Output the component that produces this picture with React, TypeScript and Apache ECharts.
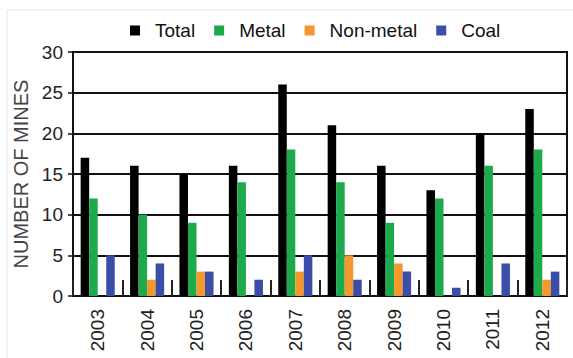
import React, { useEffect, useRef } from "react";
import * as echarts from "echarts";

const years = ["2003", "2004", "2005", "2006", "2007", "2008", "2009", "2010", "2011", "2012"];
const total = [17, 16, 15, 16, 26, 21, 16, 13, 20, 23];
const metal = [12, 10, 9, 14, 18, 14, 9, 12, 16, 18];
const nonMetal = [0, 2, 3, 0, 3, 5, 4, 0, 0, 2];
const coal = [5, 4, 3, 2, 5, 2, 3, 1, 4, 3];
const yTicks = [0, 5, 10, 15, 20, 25, 30];

export default function App() {
  const ref = useRef<HTMLDivElement>(null);
  useEffect(() => {
    if (!ref.current) return;
    const chart = echarts.init(ref.current, null, { renderer: "svg" });
    const font = "Liberation Sans, Arial, sans-serif";
    const mk = (name: string, data: number[], color: string) => ({
      name,
      type: "bar",
      data,
      barGap: "0%",
      barCategoryGap: "31%",
      itemStyle: { color },
    });
    chart.setOption({
      animation: false,
      backgroundColor: "#ffffff",
      textStyle: { fontFamily: font },
      graphic: [
        {
          type: "rect",
          shape: { x: 7, y: 10, width: 580, height: 360 },
          style: { fill: "none", stroke: "#e6e6e6", lineWidth: 1 },
          silent: true,
        },
      ],
      legend: {
        top: 16,
        left: 125,
        itemWidth: 10,
        itemHeight: 10,
        itemGap: 19,
        icon: "rect",
        textStyle: { fontSize: 19, color: "#111", fontFamily: font, padding: [0, 0, 0, 10] },
        data: ["Total", "Metal", "Non-metal", "Coal"],
      },
      grid: {
        left: 73,
        right: 6,
        top: 52,
        bottom: 62,
        show: true,
        borderColor: "#111",
        borderWidth: 2,
        backgroundColor: "transparent",
      },
      xAxis: {
        type: "category",
        data: years,
        axisLine: { lineStyle: { color: "#111", width: 2 } },
        axisTick: { show: true, inside: true, length: 16, lineStyle: { color: "#222", width: 2 } },
        axisLabel: { rotate: 90, fontSize: 19, color: "#222", margin: 13, fontFamily: font },
      },
      yAxis: {
        type: "value",
        min: yTicks[0],
        max: yTicks[yTicks.length - 1],
        interval: 5,
        name: "NUMBER OF MINES",
        nameLocation: "middle",
        nameRotate: 90,
        nameGap: 40,
        nameTextStyle: { fontSize: 20, color: "#444", fontFamily: font },
        axisLine: { show: true, lineStyle: { color: "#111", width: 2 } },
        axisTick: { show: true, length: 5, lineStyle: { color: "#111", width: 1.5 } },
        axisLabel: { fontSize: 19, color: "#222", margin: 10, fontFamily: font },
        splitLine: { show: true, lineStyle: { color: "#111", width: 2 } },
      },
      series: [
        mk("Total", total, "#000000"),
        mk("Metal", metal, "#1daa4c"),
        mk("Non-metal", nonMetal, "#f4972c"),
        mk("Coal", coal, "#3a4ea8"),
      ],
    });
    return () => chart.dispose();
  }, []);
  return <div ref={ref} style={{ width: 573, height: 358, position: "absolute", left: 0, top: 0 }} />;
}
